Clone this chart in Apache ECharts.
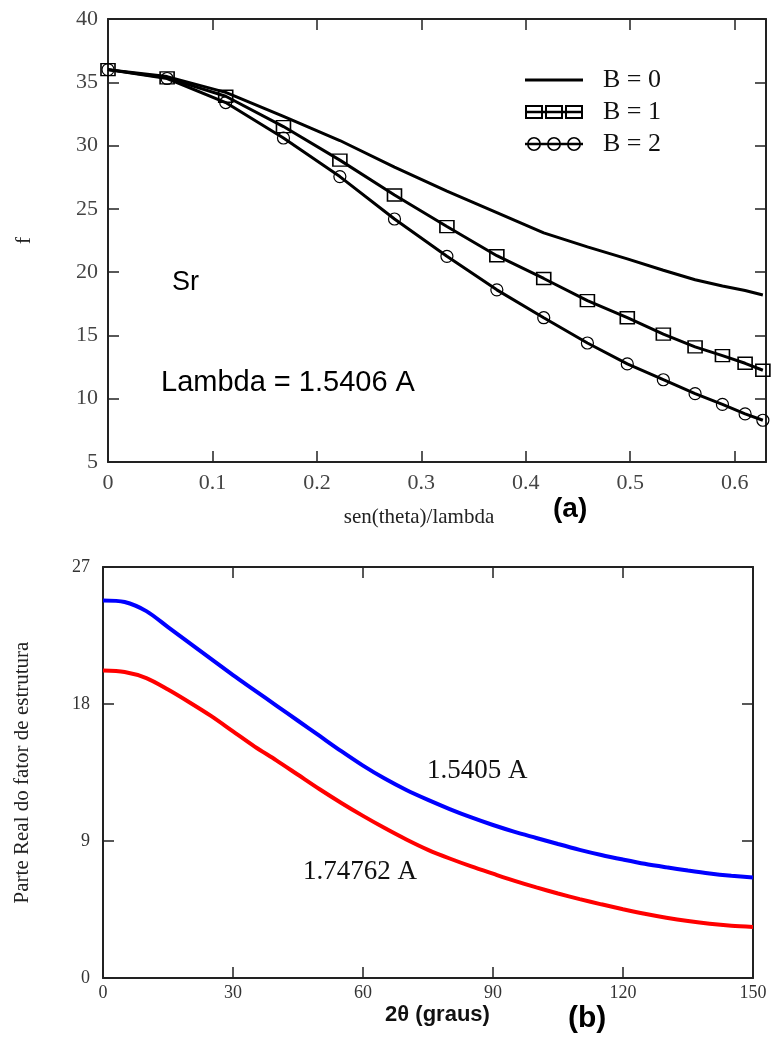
<!DOCTYPE html>
<html>
<head>
<meta charset="utf-8">
<script src="https://cdn.jsdelivr.net/npm/echarts@6/dist/echarts.min.js"></script>
<style>
html,body{margin:0;padding:0;background:#fff;}
#main{width:776px;height:1043px;}
</style>
</head>
<body>
<div id="main"></div>
<script>
// ---- Chart (a): atomic scattering factor f of Sr ----
const sinThetaLambda = [0, 0.0566, 0.1127, 0.1680, 0.2220, 0.2743, 0.3245, 0.3723, 0.4172, 0.4590, 0.4972, 0.5317, 0.5621, 0.5883, 0.6100, 0.6270];
const fB0 = [36.0, 35.45, 34.2, 32.3, 30.4, 28.3, 26.4, 24.7, 23.1, 22.0, 21.05, 20.15, 19.4, 18.9, 18.55, 18.2];
const fB1 = [36.0, 35.35, 33.9, 31.5, 28.85, 26.1, 23.6, 21.3, 19.5, 17.75, 16.4, 15.1, 14.1, 13.4, 12.8, 12.25];
const fB2 = [36.0, 35.3, 33.4, 30.6, 27.55, 24.2, 21.25, 18.6, 16.4, 14.4, 12.75, 11.5, 10.4, 9.55, 8.8, 8.3];
const seriesNamesA = ['B = 0', 'B = 1', 'B = 2'];

// ---- Chart (b): real part of structure factor vs 2theta ----
const twoTheta = [0, 5, 10, 15, 20, 25, 30, 35, 40, 45, 50, 55, 60, 65, 70, 75, 80, 85, 90, 95, 100, 105, 110, 115, 120, 125, 130, 135, 140, 145, 150];
const fReal15405 = [24.8, 24.7, 24.1, 23.05, 22.0, 20.95, 19.9, 18.9, 17.9, 16.9, 15.9, 14.9, 13.95, 13.1, 12.35, 11.7, 11.1, 10.55, 10.05, 9.6, 9.2, 8.8, 8.42, 8.08, 7.78, 7.5, 7.27, 7.06, 6.87, 6.72, 6.6];
const fReal174762 = [20.2, 20.1, 19.7, 18.95, 18.1, 17.2, 16.2, 15.2, 14.3, 13.35, 12.4, 11.5, 10.65, 9.85, 9.1, 8.42, 7.85, 7.33, 6.85, 6.38, 5.95, 5.55, 5.18, 4.84, 4.52, 4.22, 3.96, 3.74, 3.56, 3.43, 3.35];
const seriesNamesB = ['1.5405 A', '1.74762 A'];

const zip = (xs, ys) => xs.map((x, i) => [x, ys[i]]);

const SERIF = 'Liberation Serif';
const SANS = 'Liberation Sans';
const AX = '#222';

function frameAxis(extra) {
  return Object.assign({
    axisLine: { show: true, onZero: false, lineStyle: { color: AX, width: 2 } },
    axisTick: { show: true, inside: true, length: 11, lineStyle: { color: AX, width: 1.5 } },
    splitLine: { show: false }
  }, extra);
}

const chart = echarts.init(document.getElementById('main'), null, { renderer: 'canvas' });

const iconLine = 'path://M0 5.5 H58 V8.5 H0 Z';
const iconSquares = 'path://M0 5.8 H58 V8.2 H0 Z M0 0 H18 V14 H0 Z M2 2 V12 H16 V2 Z M20 0 H38 V14 H20 Z M22 2 V12 H36 V2 Z M40 0 H58 V14 H40 Z M42 2 V12 H56 V2 Z';
const iconCircles = 'path://M0 5.8 H58 V8.2 H0 Z M2 7 A7 7 0 1 1 16 7 A7 7 0 1 1 2 7 Z M3.6 7 A5.4 5.4 0 1 0 14.4 7 A5.4 5.4 0 1 0 3.6 7 Z M22 7 A7 7 0 1 1 36 7 A7 7 0 1 1 22 7 Z M23.6 7 A5.4 5.4 0 1 0 34.4 7 A5.4 5.4 0 1 0 23.6 7 Z M42 7 A7 7 0 1 1 56 7 A7 7 0 1 1 42 7 Z M43.6 7 A5.4 5.4 0 1 0 54.4 7 A5.4 5.4 0 1 0 43.6 7 Z';

const option = {
  backgroundColor: '#fff',
  animation: false,
  grid: [
    { left: 108, top: 19, right: 10, bottom: 581, containLabel: false },
    { left: 103, top: 567, right: 23, bottom: 65, containLabel: false }
  ],
  legend: {
    orient: 'vertical',
    left: 525,
    top: 64,
    padding: 0,
    itemGap: 0,
    itemWidth: 58,
    itemHeight: 14,
    selectedMode: false,
    textStyle: { fontFamily: SERIF, fontSize: 26, color: '#111', lineHeight: 32, padding: [0, 0, 0, 15] },
    itemStyle: { color: '#000', borderWidth: 0 },
    data: [
      { name: seriesNamesA[0], icon: iconLine, itemStyle: { color: '#000', borderWidth: 0 } },
      { name: seriesNamesA[1], icon: iconSquares, itemStyle: { color: '#000', borderWidth: 0 } },
      { name: seriesNamesA[2], icon: iconCircles, itemStyle: { color: '#000', borderWidth: 0 } }
    ]
  },
  xAxis: [
    frameAxis({
      type: 'value', gridIndex: 0, position: 'bottom', min: 0, max: 0.63, interval: 0.1,
      name: 'sen(theta)/lambda', nameLocation: 'middle', nameGap: 45,
      nameTextStyle: { fontFamily: SERIF, fontSize: 21, color: '#222', padding: [0, 36, 0, 0] },
      axisLabel: { fontFamily: SERIF, fontSize: 22, color: '#444', margin: 10, showMaxLabel: false }
    }),
    frameAxis({
      type: 'value', gridIndex: 0, position: 'top', min: 0, max: 0.63, interval: 0.1,
      axisLabel: { show: false }
    }),
    frameAxis({
      type: 'value', gridIndex: 1, position: 'bottom', min: 0, max: 150, interval: 30,
      name: '2\u03B8 (graus)', nameLocation: 'middle', nameGap: 26,
      nameTextStyle: { fontFamily: SANS, fontSize: 22, fontWeight: 'bold', color: '#111', padding: [0, 0, 0, 19] },
      axisLabel: { fontFamily: SERIF, fontSize: 18, color: '#333', margin: 6 }
    }),
    frameAxis({
      type: 'value', gridIndex: 1, position: 'top', min: 0, max: 150, interval: 30,
      axisLabel: { show: false }
    })
  ],
  yAxis: [
    frameAxis({
      type: 'value', gridIndex: 0, position: 'left', min: 5, max: 40, interval: 5,
      name: 'f', nameLocation: 'middle', nameGap: 73,
      nameTextStyle: { fontFamily: SERIF, fontSize: 22, color: '#222' },
      axisLabel: { fontFamily: SERIF, fontSize: 22, color: '#444', margin: 10 }
    }),
    frameAxis({
      type: 'value', gridIndex: 0, position: 'right', min: 5, max: 40, interval: 5,
      axisLabel: { show: false }
    }),
    frameAxis({
      type: 'value', gridIndex: 1, position: 'left', min: 0, max: 27, interval: 9,
      name: 'Parte Real do fator de estrutura', nameLocation: 'middle', nameGap: 70,
      nameTextStyle: { fontFamily: SERIF, fontSize: 21, color: '#222' },
      axisLabel: { fontFamily: SERIF, fontSize: 18, color: '#333', margin: 13 }
    }),
    frameAxis({
      type: 'value', gridIndex: 1, position: 'right', min: 0, max: 27, interval: 9,
      axisLabel: { show: false }
    })
  ],
  series: [
    {
      name: seriesNamesA[0], type: 'line', xAxisIndex: 0, yAxisIndex: 0,
      data: zip(sinThetaLambda, fB0), showSymbol: false, symbol: 'none',
      lineStyle: { color: '#000', width: 3 }, itemStyle: { color: '#000' }, z: 3
    },
    {
      name: seriesNamesA[1], type: 'line', xAxisIndex: 0, yAxisIndex: 0,
      data: zip(sinThetaLambda, fB1), symbol: 'rect', symbolSize: [14, 12],
      lineStyle: { color: '#000', width: 3 },
      itemStyle: { color: 'rgba(0,0,0,0)', borderColor: '#000', borderWidth: 1.5 }, z: 3
    },
    {
      name: seriesNamesA[2], type: 'line', xAxisIndex: 0, yAxisIndex: 0,
      data: zip(sinThetaLambda, fB2), symbol: 'circle', symbolSize: 12,
      lineStyle: { color: '#000', width: 3 },
      itemStyle: { color: 'rgba(0,0,0,0)', borderColor: '#000', borderWidth: 1.2 }, z: 3
    },
    {
      name: seriesNamesB[0], type: 'line', xAxisIndex: 2, yAxisIndex: 2,
      data: zip(twoTheta, fReal15405), showSymbol: false, symbol: 'none', smooth: 0.3,
      lineStyle: { color: '#0000ff', width: 4 }, itemStyle: { color: '#0000ff' }
    },
    {
      name: seriesNamesB[1], type: 'line', xAxisIndex: 2, yAxisIndex: 2,
      data: zip(twoTheta, fReal174762), showSymbol: false, symbol: 'none', smooth: 0.3,
      lineStyle: { color: '#ff0000', width: 4 }, itemStyle: { color: '#ff0000' }
    }
  ],
  graphic: [
    { type: 'text', x: 172, y: 283, style: { text: 'Sr', font: '27px "Liberation Sans"', fill: '#000', verticalAlign: 'middle' } },
    { type: 'text', x: 161, y: 383, style: { text: 'Lambda = 1.5406 A', font: '29px "Liberation Sans"', fill: '#000', verticalAlign: 'middle' } },
    { type: 'text', x: 553, y: 509, style: { text: '(a)', font: 'bold 28px "Liberation Sans"', fill: '#000', verticalAlign: 'middle' } },
    { type: 'text', x: 427, y: 771, style: { text: '1.5405 A', font: '27px "Liberation Serif"', fill: '#111', verticalAlign: 'middle' } },
    { type: 'text', x: 303, y: 872, style: { text: '1.74762 A', font: '27px "Liberation Serif"', fill: '#111', verticalAlign: 'middle' } },
    { type: 'text', x: 568, y: 1019, style: { text: '(b)', font: 'bold 30px "Liberation Sans"', fill: '#000', verticalAlign: 'middle' } }
  ]
};

chart.setOption(option);
</script>
</body>
</html>
